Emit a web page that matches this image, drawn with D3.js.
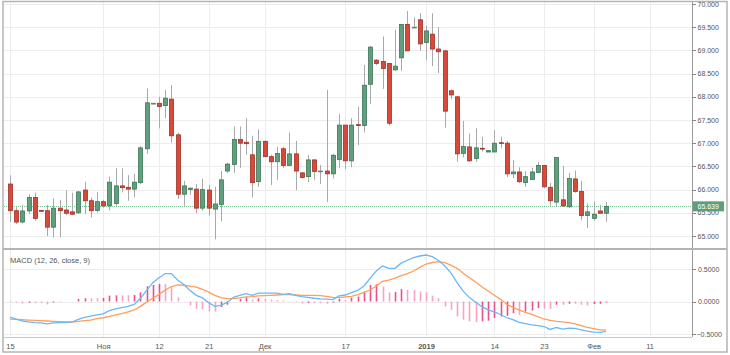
<!DOCTYPE html>
<html><head><meta charset="utf-8">
<script src="https://cdn.jsdelivr.net/npm/d3@7/dist/d3.min.js"></script>
<style>
html,body{margin:0;padding:0;background:#fff;}
svg{display:block;font-family:"Liberation Sans",Arial,sans-serif;}
</style></head>
<body>
<svg id="c" width="730" height="355"></svg>
<script>
// ---- data ----
const open  = [66.12,65.545,65.30,65.54,65.83,65.55,65.545,65.19,65.60,65.56,65.52,65.50,65.99,65.76,65.55,65.74,65.65,65.70,66.08,66.05,66.01,66.15,66.88,67.86,67.86,67.81,67.95,67.18,65.90,66.00,66.01,65.60,65.99,65.58,65.68,66.40,66.54,67.08,67.02,66.75,66.17,67.04,66.71,66.60,66.88,66.52,66.77,66.36,66.28,66.64,66.40,66.40,66.34,66.65,67.39,66.62,67.40,67.38,68.27,68.79,68.76,68.72,68.58,68.84,69.56,69.50,69.66,69.17,69.35,69.03,68.99,68.13,68.00,66.78,66.92,66.67,66.89,66.81,66.81,67.01,67.00,66.34,66.38,66.15,66.22,66.37,66.52,66.05,65.73,65.78,65.63,66.23,65.96,65.44,65.38,65.54,65.49];
const high  = [66.31,65.62,65.67,65.90,65.93,65.56,65.67,65.81,65.78,65.98,65.93,65.97,66.17,65.83,65.94,65.78,66.28,66.46,66.46,66.31,66.34,66.94,68.18,67.86,68.00,68.15,68.25,67.23,66.19,66.05,66.12,66.23,66.10,66.06,66.40,66.58,67.36,67.36,67.54,67.16,67.30,67.06,66.75,66.92,66.92,67.23,67.05,66.38,66.75,66.65,66.53,68.15,66.77,67.63,67.39,67.54,67.79,68.69,69.10,68.81,69.30,68.72,69.45,69.57,69.85,69.71,69.80,69.53,69.80,69.50,69.01,68.15,68.02,67.48,67.21,67.32,67.14,66.85,67.28,67.14,67.05,66.64,66.48,66.40,66.47,66.60,66.52,66.14,66.69,66.51,66.36,66.41,66.19,65.70,65.74,65.67,65.73];
const low   = [65.30,65.26,65.27,65.47,65.33,65.53,65.00,64.97,64.97,65.45,65.45,65.48,65.47,65.40,65.51,65.61,65.55,65.65,65.94,65.76,65.83,66.12,66.77,67.86,67.32,67.54,67.01,65.80,65.65,65.89,65.49,65.545,65.44,64.93,65.32,66.36,66.36,66.47,66.75,65.83,66.06,66.71,66.10,66.21,66.46,66.52,65.99,66.24,66.16,66.21,66.12,65.73,66.24,66.46,66.44,66.48,66.96,67.23,67.84,68.68,68.17,67.38,68.56,68.56,68.99,69.48,68.99,68.79,68.66,68.51,67.33,67.95,66.60,66.69,66.60,66.60,66.82,66.81,66.81,66.89,66.27,66.25,66.14,66.06,66.22,66.35,66.03,65.65,65.63,65.62,65.60,65.93,65.34,65.17,65.33,65.49,65.31];
const close = [65.545,65.30,65.54,65.83,65.38,65.54,65.19,65.60,65.545,65.49,65.47,65.95,65.76,65.545,65.74,65.65,66.16,66.08,66.04,66.01,66.16,66.90,67.87,67.86,67.79,67.97,67.16,65.90,66.08,66.03,65.60,66.00,65.60,65.69,66.21,66.55,67.08,67.00,66.99,66.15,67.04,66.71,66.60,66.78,66.52,66.77,66.40,66.26,66.64,66.39,66.40,66.34,66.74,67.39,66.62,67.39,67.39,68.25,69.07,68.72,68.61,67.43,68.66,69.56,68.99,69.50,69.14,69.42,69.03,68.97,67.69,68.04,66.77,66.93,66.62,66.90,66.88,66.84,67.00,67.00,66.34,66.38,66.17,66.28,66.38,66.52,66.06,65.76,66.69,65.65,66.24,65.96,65.44,65.52,65.47,65.49,65.639];

const macd   = [-0.24,-0.27,-0.30,-0.315,-0.325,-0.33,-0.345,-0.33,-0.325,-0.32,-0.315,-0.275,-0.245,-0.225,-0.205,-0.19,-0.14,-0.115,-0.095,-0.075,-0.045,0.045,0.17,0.29,0.365,0.43,0.43,0.33,0.26,0.17,0.095,0.055,-0.02,-0.075,-0.06,-0.01,0.065,0.095,0.12,0.095,0.13,0.13,0.13,0.13,0.11,0.12,0.095,0.075,0.065,0.05,0.04,0.035,0.03,0.085,0.10,0.135,0.17,0.24,0.357,0.47,0.545,0.51,0.51,0.59,0.635,0.675,0.70,0.715,0.69,0.63,0.55,0.44,0.29,0.16,0.06,-0.01,-0.08,-0.13,-0.16,-0.20,-0.25,-0.28,-0.32,-0.34,-0.36,-0.37,-0.385,-0.43,-0.40,-0.425,-0.41,-0.415,-0.435,-0.455,-0.47,-0.475,-0.46];
const signal = [-0.27,-0.275,-0.28,-0.285,-0.29,-0.295,-0.30,-0.305,-0.31,-0.315,-0.315,-0.305,-0.295,-0.285,-0.265,-0.25,-0.23,-0.205,-0.185,-0.16,-0.13,-0.075,-0.01,0.05,0.11,0.175,0.23,0.255,0.25,0.235,0.22,0.185,0.145,0.095,0.06,0.045,0.045,0.055,0.07,0.075,0.085,0.09,0.095,0.10,0.105,0.105,0.10,0.095,0.095,0.094,0.09,0.08,0.065,0.06,0.07,0.08,0.105,0.14,0.177,0.238,0.31,0.33,0.36,0.397,0.428,0.469,0.525,0.577,0.60,0.613,0.597,0.56,0.51,0.433,0.366,0.30,0.228,0.162,0.095,0.033,-0.043,-0.09,-0.13,-0.166,-0.197,-0.233,-0.269,-0.29,-0.305,-0.315,-0.325,-0.346,-0.372,-0.397,-0.418,-0.438,-0.438];
const hist   = [0.01,-0.02,-0.03,-0.02,-0.025,-0.025,-0.045,-0.015,-0.005,0.0,0.0,0.04,0.05,0.05,0.05,0.055,0.09,0.095,0.095,0.095,0.10,0.14,0.235,0.255,0.27,0.27,0.22,0.065,0.005,-0.06,-0.11,-0.12,-0.155,-0.155,-0.085,-0.05,0.0,0.04,0.065,0.03,0.05,0.04,0.03,0.025,0.015,0.005,-0.01,-0.03,-0.025,-0.025,-0.025,-0.035,-0.015,0.04,0.025,0.06,0.075,0.15,0.255,0.265,0.23,0.14,0.145,0.19,0.18,0.18,0.155,0.14,0.09,0.05,-0.075,-0.13,-0.23,-0.28,-0.305,-0.315,-0.305,-0.295,-0.255,-0.23,-0.22,-0.18,-0.205,-0.155,-0.14,-0.10,-0.11,-0.115,-0.05,-0.05,-0.035,-0.035,-0.05,-0.06,-0.04,-0.035,-0.015];

const timeTickIdx    = [0,15,24,32,41,54,67,78,86,94,103];
const timeTickLabels = ["15","Ноя","12","21","Дек","17","2019","14","23","Фев","11"];
const priceTicks = [65,65.5,66,66.5,67,67.5,68,68.5,69,69.5,70];
const macdTicks  = [-0.5,0,0.5];
const lastPrice = 65.639;
const macdTitle = "MACD (12, 26, close, 9)";

// ---- layout ----
const L = 4, R = 692;
const pTop = 2, pBot = 248, mTop = 250, mBot = 337;
const svg = d3.select("#c");

const x = d3.scaleLinear().domain([-1.127, 110]).range([3, 693]);
const y = d3.scaleLinear().domain([65, 70]).range([236, 4]);
const ym = d3.scaleLinear().domain([-0.5, 0.5]).range([334, 269]);

const fmtP = d3.format(".3f"), fmtM = d3.format(".4f");

// clip paths
const defs = svg.append("defs");
defs.append("clipPath").attr("id","cp").append("rect").attr("x",L).attr("y",pTop).attr("width",R-L).attr("height",pBot-pTop);
defs.append("clipPath").attr("id","cm").append("rect").attr("x",L).attr("y",mTop).attr("width",R-L).attr("height",mBot-mTop);

const grid = "#ececec";
// horizontal grids
svg.append("g").selectAll("line").data(priceTicks).join("line")
  .attr("x1",L).attr("x2",R).attr("y1",d=>Math.round(y(d))+0.5).attr("y2",d=>Math.round(y(d))+0.5)
  .attr("stroke",grid).attr("stroke-width",1);
svg.append("g").selectAll("line").data(macdTicks).join("line")
  .attr("x1",L).attr("x2",R).attr("y1",d=>Math.round(ym(d))+0.5).attr("y2",d=>Math.round(ym(d))+0.5)
  .attr("stroke",grid).attr("stroke-width",1);
// vertical grids
[[pTop,pBot],[mTop,mBot]].forEach(([a,b])=>{
  svg.append("g").selectAll("line").data(timeTickIdx).join("line")
    .attr("x1",d=>Math.round(x(d))+0.5).attr("x2",d=>Math.round(x(d))+0.5)
    .attr("y1",a).attr("y2",b).attr("stroke",grid).attr("stroke-width",1);
});

// last price dotted line
svg.append("line").attr("x1",L).attr("x2",R).attr("y1",Math.round(y(lastPrice))+0.5).attr("y2",Math.round(y(lastPrice))+0.5)
  .attr("stroke","#79c293").attr("stroke-width",1).attr("stroke-dasharray","1,1");

// candles
const idx = d3.range(open.length);
const gC = svg.append("g").attr("clip-path","url(#cp)");
const upFill="#5f9f7d", upStroke="#3e7658", dnFill="#d9493a", dnStroke="#9f3126";
gC.selectAll("line.w").data(idx).join("line").attr("class","w")
  .attr("x1",i=>Math.round(x(i))+0.5).attr("x2",i=>Math.round(x(i))+0.5)
  .attr("y1",i=>y(high[i])).attr("y2",i=>y(low[i]))
  .attr("stroke","#a9a9a9").attr("stroke-width",1);
gC.selectAll("rect.b").data(idx).join("rect").attr("class","b")
  .attr("x",i=>Math.round(x(i))-1.5).attr("width",4)
  .attr("y",i=>y(Math.max(open[i],close[i])))
  .attr("height",i=>Math.max(0.8, Math.abs(y(open[i])-y(close[i]))))
  .attr("fill",i=>close[i]>open[i]?upFill:(close[i]<open[i]?dnFill:"#777"))
  .attr("stroke",i=>close[i]>open[i]?upStroke:(close[i]<open[i]?dnStroke:"#777"))
  .attr("stroke-width",0.8);

// MACD histogram
const gM = svg.append("g").attr("clip-path","url(#cm)");
gM.selectAll("rect").data(idx).join("rect")
  .attr("x",i=>Math.round(x(i))-0.3).attr("width",1.6)
  .attr("y",i=>Math.min(ym(0),ym(hist[i])))
  .attr("height",i=>Math.abs(ym(hist[i])-ym(0)))
  .attr("fill",i=> (i>0 && hist[i]>hist[i-1]) ? "#ec4d8c" : "#f7a3c5");
const lineGen = arr => d3.line().x(i=>x(i)).y(i=>ym(arr[i]))(idx);
gM.append("path").attr("d",lineGen(signal)).attr("fill","none").attr("stroke","#ff9e5c").attr("stroke-width",1.3);
gM.append("path").attr("d",lineGen(macd)).attr("fill","none").attr("stroke","#6ab8f5").attr("stroke-width",1.3);

// MACD title
svg.append("text").attr("x",10).attr("y",263).attr("font-size",7.5).attr("fill","#555").text(macdTitle);

// panel borders
const border="#b4b4b4";
svg.append("line").attr("x1",R+0.5).attr("x2",R+0.5).attr("y1",pTop).attr("y2",mBot).attr("stroke","#9a9a9a").attr("stroke-width",1);
svg.append("rect").attr("x",3).attr("y",1.5).attr("width",724).attr("height",350.5).attr("fill","none").attr("stroke",border).attr("stroke-width",1.5);
svg.append("line").attr("x1",3).attr("x2",727).attr("y1",249).attr("y2",249).attr("stroke",border).attr("stroke-width",2);
svg.append("line").attr("x1",3).attr("x2",R).attr("y1",mBot+0.5).attr("y2",mBot+0.5).attr("stroke","#c8c8c8").attr("stroke-width",1);

// price axis
const gPA = svg.append("g");
gPA.selectAll("line").data(priceTicks).join("line")
  .attr("x1",R).attr("x2",R+4).attr("y1",d=>Math.round(y(d))+0.5).attr("y2",d=>Math.round(y(d))+0.5)
  .attr("stroke","#888");
gPA.selectAll("text").data(priceTicks).join("text")
  .attr("x",R+5.5).attr("y",d=>y(d)+2.6).attr("font-size",7).attr("fill","#555").text(d=>fmtP(d));
// macd axis
const gMA = svg.append("g");
gMA.selectAll("line").data(macdTicks).join("line")
  .attr("x1",R).attr("x2",R+4).attr("y1",d=>Math.round(ym(d))+0.5).attr("y2",d=>Math.round(ym(d))+0.5)
  .attr("stroke","#888");
gMA.selectAll("text").data(macdTicks).join("text")
  .attr("x",d=>d<0?R+4.5:R+6).attr("y",d=>ym(d)+2.6).attr("font-size",7).attr("fill","#555").text(d=>fmtM(d));

// last price label
const ly = y(lastPrice);
svg.append("rect").attr("x",R+1).attr("y",ly-5).attr("width",31).attr("height",10).attr("fill","#5e9e7a");
svg.append("text").attr("x",R+5.5).attr("y",ly+2.6).attr("font-size",7).attr("fill","#fff").text(fmtP(lastPrice));

// time axis labels
svg.append("g").selectAll("text").data(timeTickIdx).join("text")
  .attr("x",d=>x(d)+0.5).attr("y",349).attr("text-anchor","middle").attr("font-size",7.5)
  .attr("fill","#555").attr("font-weight",(d,i)=>timeTickLabels[i]==="2019"?"bold":"normal")
  .text((d,i)=>timeTickLabels[i]);
</script>
</body></html>
